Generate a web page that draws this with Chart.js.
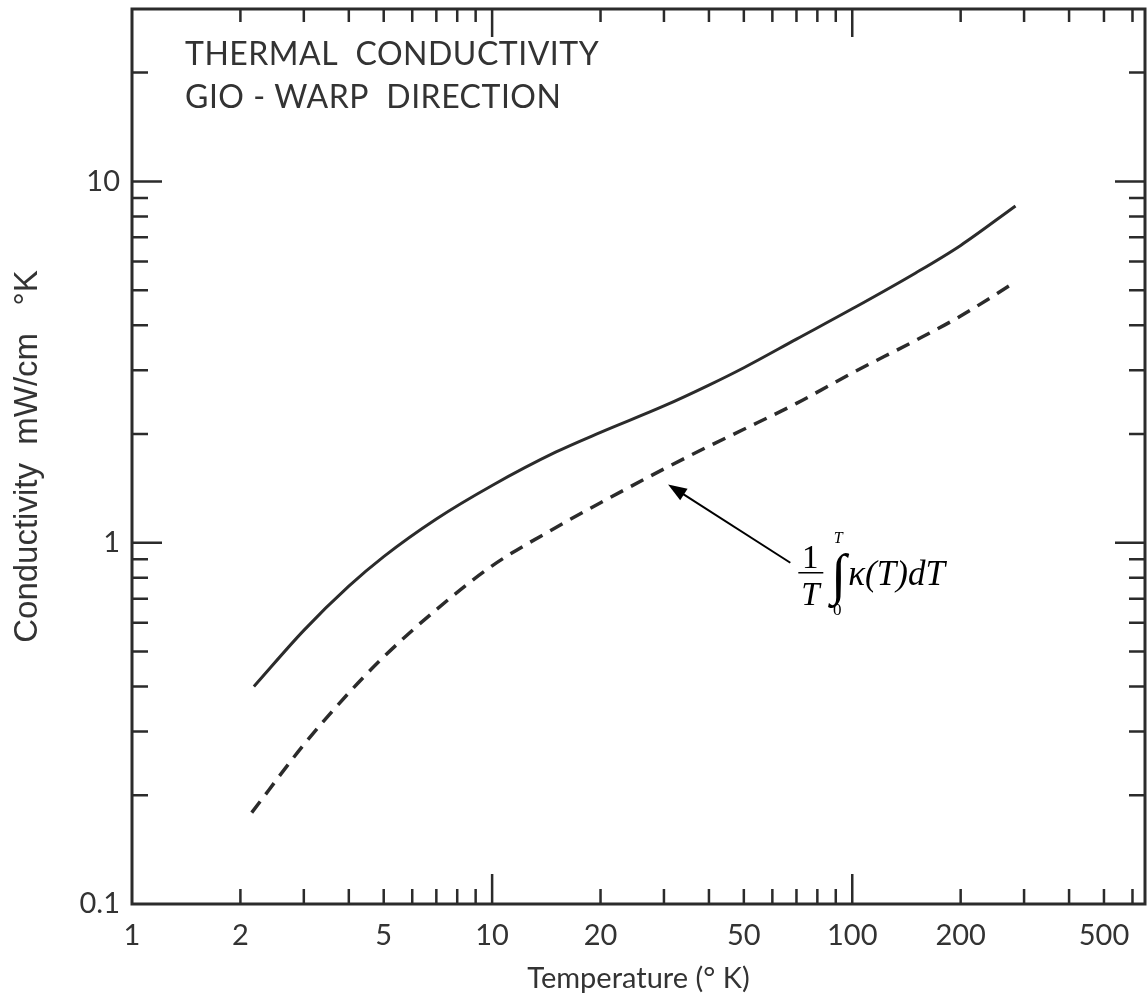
<!DOCTYPE html>
<html>
<head>
<meta charset="utf-8">
<script src="https://cdn.jsdelivr.net/npm/chart.js@4"></script>
<style>
  body { margin: 0; background: #fff; }
  #wrap { width: 1147px; height: 1004px; }
</style>
</head>
<body>
<div id="wrap"><canvas id="chart"></canvas></div>
<script>
// values (log-log)
const solidTemps = [2.18, 3, 4, 5, 7, 10, 15, 20, 30, 40, 50, 70, 100, 150, 200, 284];
const solidK = [0.40, 0.572, 0.758, 0.915, 1.163, 1.44, 1.78, 2.02, 2.39, 2.73, 3.05, 3.66, 4.44, 5.58, 6.65, 8.55];
const dashTemps = [2.15, 3, 4, 5, 7, 10, 15, 20, 30, 40, 50, 70, 100, 150, 200, 284];
const dashK = [0.179, 0.276, 0.384, 0.483, 0.653, 0.863, 1.10, 1.29, 1.60, 1.85, 2.06, 2.43, 2.95, 3.63, 4.24, 5.27];

const xLabels = [1, 2, 5, 10, 20, 50, 100, 200, 500];
const yLabels = [0.1, 1, 10];
const titleLines = ['THERMAL  CONDUCTIVITY', 'GIO - WARP  DIRECTION'];

// arrow: tip on the dashed curve, tail near the formula (data units)
const arrowTip = { x: 30.8, y: 1.45 };
const arrowTail = { x: 67.3, y: 0.88 };

const ink = '#2b2b2b';
const sans = 'Lato, "DejaVu Sans", sans-serif';

const isDecade = v => Math.abs(Math.log10(v) - Math.round(Math.log10(v))) < 1e-6;
const isStep = v => {
  const m = v / Math.pow(10, Math.floor(Math.log10(v) + 1e-9));
  return Math.abs(m - Math.round(m)) < 1e-6;
};
const noPad = s => { s.paddingTop = 0; s.paddingBottom = 0; s.paddingLeft = 0; s.paddingRight = 0; };

const frame = {
  id: 'frame',
  afterDraw(chart) {
    const { ctx, chartArea: a, scales: { x, y } } = chart;
    ctx.save();
    ctx.strokeStyle = ink;
    ctx.lineCap = 'butt';

    // inward ticks on all four sides
    ctx.lineWidth = 2.5;
    ctx.beginPath();
    x.ticks.forEach(t => {
      if (!isStep(t.value)) return;
      const px = x.getPixelForValue(t.value);
      if (px <= a.left + 2 || px >= a.right - 2) return;
      const len = isDecade(t.value) ? 30 : 15;
      ctx.moveTo(px, a.bottom); ctx.lineTo(px, a.bottom - len);
      ctx.moveTo(px, a.top); ctx.lineTo(px, a.top + (isDecade(t.value) ? 28 : 13));
    });
    y.ticks.forEach(t => {
      if (!isStep(t.value)) return;
      const py = y.getPixelForValue(t.value);
      if (py <= a.top + 2 || py >= a.bottom - 2) return;
      const len = isDecade(t.value) ? 30 : 16;
      ctx.moveTo(a.left, py); ctx.lineTo(a.left + len, py);
      ctx.moveTo(a.right, py); ctx.lineTo(a.right - len, py);
    });
    ctx.stroke();

    ctx.lineWidth = 3;
    ctx.strokeRect(a.left, a.top, a.right - a.left, a.bottom - a.top);

    // title inside the plot
    ctx.fillStyle = '#333';
    ctx.font = '32px ' + sans;
    ctx.textBaseline = 'alphabetic';
    ctx.textAlign = 'left';
    ctx.letterSpacing = '0.5px';
    ctx.fillText(titleLines[0], a.left + 53, 65);
    ctx.fillText(titleLines[1], a.left + 53, 108);
    ctx.letterSpacing = '0px';

    // arrow
    const tx = x.getPixelForValue(arrowTip.x), ty = y.getPixelForValue(arrowTip.y);
    const sx = x.getPixelForValue(arrowTail.x), sy = y.getPixelForValue(arrowTail.y);
    const ang = Math.atan2(ty - sy, tx - sx);
    ctx.strokeStyle = '#000';
    ctx.fillStyle = '#000';
    ctx.lineWidth = 2;
    ctx.beginPath();
    ctx.moveTo(sx, sy);
    ctx.lineTo(tx - 12 * Math.cos(ang), ty - 12 * Math.sin(ang));
    ctx.stroke();
    ctx.beginPath();
    ctx.moveTo(tx, ty);
    ctx.lineTo(tx - 20 * Math.cos(ang - 0.35), ty - 20 * Math.sin(ang - 0.35));
    ctx.lineTo(tx - 20 * Math.cos(ang + 0.35), ty - 20 * Math.sin(ang + 0.35));
    ctx.closePath();
    ctx.fill();

    // formula: (1/T) ∫_0^T κ(T) dT
    const fx = sx + 20, fy = sy;
    const serif = '"Liberation Serif", "Times New Roman", serif';
    ctx.textAlign = 'center';
    ctx.font = '33px ' + serif;
    ctx.fillText('1', fx, fy + 5);
    ctx.font = 'italic 33px ' + serif;
    ctx.fillText('T', fx, fy + 42);
    ctx.lineWidth = 1.5;
    ctx.beginPath();
    ctx.moveTo(fx - 12, fy + 10); ctx.lineTo(fx + 13, fy + 10);
    ctx.stroke();
    ctx.font = '56px ' + serif;
    ctx.fillText('\u222B', fx + 28, fy + 30);
    ctx.font = 'italic 16px ' + serif;
    ctx.fillText('T', fx + 28, fy - 20);
    ctx.font = '17px ' + serif;
    ctx.fillText('0', fx + 27, fy + 52);
    ctx.textAlign = 'left';
    ctx.font = 'italic 35px ' + serif;
    ctx.fillText('\u03BA(T)dT', fx + 38, fy + 22);
    ctx.restore();
  }
};

const pts = (xs, ys) => xs.map((v, i) => ({ x: v, y: ys[i] }));

new Chart(document.getElementById('chart'), {
  type: 'line',
  data: {
    datasets: [
      {
        data: pts(solidTemps, solidK),
        borderColor: ink,
        borderWidth: 3,
        pointRadius: 0,
        cubicInterpolationMode: 'monotone'
      },
      {
        data: pts(dashTemps, dashK),
        borderColor: ink,
        borderWidth: 3.5,
        borderDash: [14, 9],
        pointRadius: 0,
        cubicInterpolationMode: 'monotone'
      }
    ]
  },
  options: {
    responsive: true,
    maintainAspectRatio: false,
    animation: false,
    layout: { padding: { top: 9, right: 2 } },
    plugins: { legend: { display: false }, tooltip: { enabled: false } },
    scales: {
      x: {
        type: 'logarithmic',
        min: 1,
        max: 650,
        grid: { display: false, drawTicks: false },
        border: { display: false },
        afterFit: s => { s.height = 100; noPad(s); },
        ticks: {
          autoSkip: false,
          maxRotation: 0,
          padding: 14,
          color: '#333',
          font: { family: sans, size: 29 },
          callback: v => xLabels.some(l => Math.abs(l - v) < 1e-6) ? String(v) : ''
        },
        title: {
          display: true,
          text: 'Temperature (° K)',
          color: '#333',
          font: { family: sans, size: 29 },
          padding: { top: 0, bottom: 8 }
        }
      },
      y: {
        type: 'logarithmic',
        min: 0.1,
        max: 30,
        grid: { display: false, drawTicks: false },
        border: { display: false },
        afterFit: s => { s.width = 132; noPad(s); },
        ticks: {
          autoSkip: false,
          padding: 12,
          color: '#333',
          font: { family: sans, size: 29 },
          callback: v => yLabels.some(l => Math.abs(l - v) < 1e-9) ? String(v) : ''
        },
        title: {
          display: true,
          text: 'Conductivity  mW/cm   °K',
          color: '#333',
          font: { family: '"Liberation Sans", Arial, sans-serif', size: 33 },
          padding: { top: 8, bottom: 0 }
        }
      }
    }
  },
  plugins: [frame]
});
</script>
</body>
</html>
